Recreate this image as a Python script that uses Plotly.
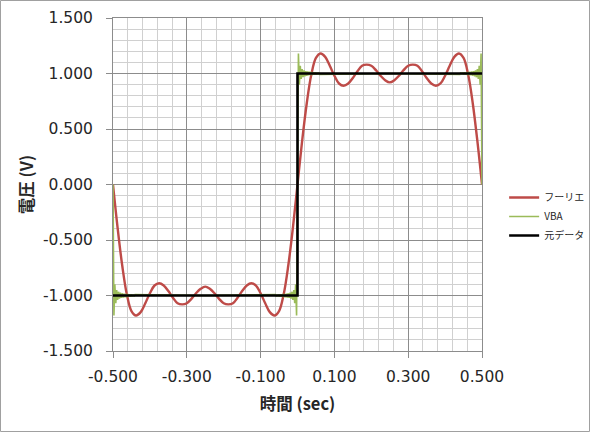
import plotly.graph_objects as go

# ---- data ----
# Fourier series (4 harmonics) sampled every 0.0125 s from -0.5 to 0.5
t_red = [round(-0.5 + 0.0125 * i, 4) for i in range(81)]
v_red = [0, -0.39, -0.73, -0.99, -1.14, -1.18, -1.15, -1.07, -0.98, -0.91,
         -0.89, -0.91, -0.96, -1.02, -1.07, -1.08, -1.07, -1.03, -0.98, -0.94,
         -0.92, -0.94, -0.98, -1.03, -1.07, -1.08, -1.07, -1.02, -0.96, -0.91,
         -0.89, -0.91, -0.98, -1.07, -1.15, -1.18, -1.14, -0.99, -0.73, -0.39,
         0, 0.39, 0.73, 0.99, 1.14, 1.18, 1.15, 1.07, 0.98, 0.91,
         0.89, 0.91, 0.96, 1.02, 1.07, 1.08, 1.07, 1.03, 0.98, 0.94,
         0.92, 0.94, 0.98, 1.03, 1.07, 1.08, 1.07, 1.02, 0.96, 0.91,
         0.89, 0.91, 0.98, 1.07, 1.15, 1.18, 1.14, 0.99, 0.73, 0.39, 0]

# VBA series: Gibbs ripple extrema next to each jump (deviation from +/-1)
ripple_step = 0.0025
ripple_dev = [0.18, -0.10, 0.07, -0.05, 0.04, -0.034, 0.029, -0.025, 0.022, -0.02,
              0.018, -0.017, 0.016, -0.014, 0.013, -0.013, 0.012, -0.011, 0.011, -0.010,
              0.009, -0.009, 0.008, -0.008]

# original data (square wave)
t_orig = [-0.5, 0.0, 0.0, 0.5]
v_orig = [-1.0, -1.0, 1.0, 1.0]

names = ["フーリエ", "VBA", "元データ"]
x_ticks = [-0.5, -0.3, -0.1, 0.1, 0.3, 0.5]
y_ticks = [-1.5, -1.0, -0.5, 0.0, 0.5, 1.0, 1.5]

# ---- build VBA series from the ripple table ----
K = len(ripple_dev)
t_vba, v_vba = [-0.5], [0.0]
for k in range(1, K + 1):
    t_vba.append(-0.5 + k * ripple_step); v_vba.append(-(1 + ripple_dev[k - 1]))
t_vba.append(-0.25); v_vba.append(-1.0)
for k in range(K, 0, -1):
    t_vba.append(-k * ripple_step); v_vba.append(-(1 + ripple_dev[k - 1]))
t_vba.append(0.0); v_vba.append(0.0)
for k in range(1, K + 1):
    t_vba.append(k * ripple_step); v_vba.append(1 + ripple_dev[k - 1])
t_vba.append(0.25); v_vba.append(1.0)
for k in range(K, 0, -1):
    t_vba.append(0.5 - k * ripple_step); v_vba.append(1 + ripple_dev[k - 1])
t_vba.append(0.5); v_vba.append(0.0)

FONT = "Noto Sans CJK JP, Noto Sans, sans-serif"
NUMFONT = "DejaVu Sans, Noto Sans, sans-serif"

fig = go.Figure()
fig.add_trace(go.Scatter(x=t_red, y=v_red, mode="lines", name=names[0],
                         line=dict(color="#BE4B48", width=2.4, shape="spline")))
fig.add_trace(go.Scatter(x=t_vba, y=v_vba, mode="lines", name=names[1],
                         line=dict(color="#9BBB59", width=1.6)))
fig.add_trace(go.Scatter(x=t_orig, y=v_orig, mode="lines", name=names[2],
                         line=dict(color="#000000", width=2.6)))

W, H = 590, 432
ml, mr, mt, mb = 113, 108, 18, 81
pw, ph = W - ml - mr, H - mt - mb

fig.update_layout(
    width=W, height=H,
    margin=dict(l=ml, r=mr, t=mt, b=mb, pad=0, autoexpand=False),
    paper_bgcolor="white", plot_bgcolor="white",
    font=dict(family=FONT, color="#262626", size=15),
    showlegend=True,
    legend=dict(x=1.06, y=0.404, xanchor="left", yanchor="middle",
                font=dict(size=10, color="#262626"), itemwidth=30,
                tracegroupgap=2, bgcolor="rgba(0,0,0,0)"),
    xaxis=dict(range=[-0.5, 0.5], tickvals=x_ticks,
               ticktext=[f"{v:.3f}" for v in x_ticks],
               showgrid=True, gridcolor="#8C8C8C", gridwidth=1,
               minor=dict(dtick=0.04, tick0=-0.5, showgrid=True,
                          gridcolor="#D0D0D0", gridwidth=1, ticks=""),
               showline=True, linecolor="#8C8C8C", linewidth=1, mirror=True,
               ticks="outside", ticklen=6, tickcolor="#8C8C8C",
               ticklabelstandoff=5,
               zeroline=False, tickfont=dict(size=15.5, family=NUMFONT), automargin=False,
               title=dict(text="<b>時間 (sec)</b>", font=dict(size=16.5), standoff=13)),
    yaxis=dict(range=[-1.5, 1.5], tickvals=y_ticks,
               ticktext=[f"{v:.3f}" for v in y_ticks],
               showgrid=True, gridcolor="#8C8C8C", gridwidth=1,
               minor=dict(dtick=0.1, tick0=-1.5, showgrid=True,
                          gridcolor="#D0D0D0", gridwidth=1, ticks=""),
               showline=True, linecolor="#8C8C8C", linewidth=1, mirror=True,
               ticks="outside", ticklen=6, tickcolor="#8C8C8C",
               ticklabelstandoff=10,
               zeroline=False, tickfont=dict(size=15.5, family=NUMFONT), automargin=False,
               title=dict(text="<b>電圧 (V)</b>", font=dict(size=16.5), standoff=5)),
    shapes=[dict(type="rect", xref="paper", yref="paper",
                 x0=(0.5 - ml) / pw, x1=(W - 0.5 - ml) / pw,
                 y0=(0.5 - mb) / ph, y1=(H - 0.5 - mb) / ph,
                 line=dict(color="#A0A0A0", width=1), fillcolor="rgba(0,0,0,0)",
                 layer="below")],
)

fig.write_html("out.html", config={"displayModeBar": False},
               post_script="document.body.style.margin='0';document.body.style.padding='0';")
